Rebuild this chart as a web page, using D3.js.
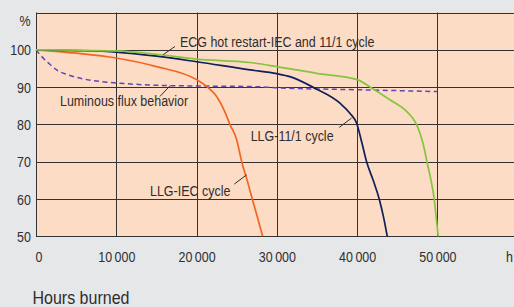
<!DOCTYPE html>
<html><head><meta charset="utf-8">
<script src="https://cdn.jsdelivr.net/npm/d3@7"></script>
<style>
html,body{margin:0;padding:0;background:#e6e7e9;}
svg{display:block;}
text{font-family:"Liberation Sans",Arial,sans-serif;fill:#2e2e2e;}
</style></head>
<body>
<svg id="c" width="514" height="307"></svg>
<script>
// ---- data (hours, percent) ----
const greenHours   = [0,5000,10000,15000,20000,26650,30000,34950,40000,42000,44080,46160,47400,48200,48700,49200,49600,49850,50100];
const greenValues  = [100,99.9,99.7,98.8,97.5,96.6,95.5,93.7,92.0,89.5,86.6,83.5,80,75,70,65,60,55,50];

const navyHours    = [0,5000,10000,15000,20000,26650,30000,31630,34740,37860,39100,39940,40600,41180,42000,42750,43300,43750];
const navyValues   = [100,99.8,99.4,98.3,96.8,94.6,93.6,92.8,89.7,85.7,83.0,80.3,75,70,65,60,55,50];

const orangeHours  = [0,5000,10000,15000,20000,21250,22500,23500,24150,25000,25620,26300,26940,27600,28230];
const orangeValues = [100,99.1,97.8,95.5,92.0,90.2,87.5,83.5,80,75.9,70,65,60,55,50];

const fluxHours    = [0,500,1530,2580,4000,5900,8000,10050,16270,20000,27900,30000,40000,50000];
const fluxValues   = [100,98.7,96.5,94.6,93.3,92.2,91.5,91.1,90.4,90.3,90.1,89.8,89.3,88.8];

const xTicks = [0,10000,20000,30000,40000,50000];
const yTicks = [50,60,70,80,90,100];
const xUnit = "h", yUnit = "%", xTitle = "Hours burned";

// annotations: label, text anchor point (hours, %), leader from, leader to
const annLabels = ["ECG hot restart-IEC and 11/1 cycle","Luminous flux behavior","LLG-11/1 cycle","LLG-IEC cycle"];
const annText   = [[17930,100.75],[2990,84.9],[26740,75.6],[14200,60.9]];
const annFrom   = [[17310,100.9],[15440,87.5],[37770,79.2],[24700,64.0]];
const annTo     = [[15850,98.7],[16690,90.35],[39310,81.7],[26240,66.5]];

// ---- drawing ----
const SX = 0.86; // horizontal condensing to mimic a condensed face
const svg = d3.select("#c");
const x = d3.scaleLinear().domain([0,60000]).range([36,517.7]);
const y = d3.scaleLinear().domain([50,110]).range([236.3,12.5]);

function ctext(parent, px, py, str, size, anchor, sx){
  return parent.append("text")
    .attr("transform",`translate(${px},${py}) scale(${sx||SX},1)`)
    .attr("font-size",size).attr("text-anchor",anchor||"start").text(str);
}

svg.append("rect").attr("x",x(0)).attr("y",y(110)).attr("width",514-x(0)).attr("height",y(50)-y(110)).attr("fill","#fddcc5");

const grid = svg.append("g").attr("stroke","#333").attr("stroke-width",1);
xTicks.slice(1).forEach(t=>grid.append("line").attr("x1",Math.round(x(t))+0.5).attr("x2",Math.round(x(t))+0.5).attr("y1",y(110)).attr("y2",y(50)));
yTicks.slice(1).concat([110]).forEach(t=>grid.append("line").attr("x1",x(0)).attr("x2",514).attr("y1",Math.round(y(t))+0.5).attr("y2",Math.round(y(t))+0.5));

const fmt = v => v===0 ? "0" : d3.format("d")(v).replace(/(\d)(\d{3})$/,"$1\u2009$2");

const xAxis = d3.axisBottom(x).tickValues(xTicks).tickFormat(fmt).tickSize(0).tickPadding(0);
const gx = svg.append("g").attr("transform",`translate(0,${Math.round(y(50))+0.5})`).call(xAxis);
gx.select(".domain").attr("stroke","#333").attr("d",`M${x(0)},0H514`);
gx.selectAll("text").attr("font-size",14.5).attr("dy",null).attr("y",26).attr("fill","#2e2e2e")
  .attr("font-family",'"Liberation Sans",Arial,sans-serif')
  .attr("transform",d=>`translate(${d===0?2.5:0},0) scale(${SX},1)`);

const yAxis = d3.axisLeft(y).tickValues(yTicks).tickFormat(d3.format("d")).tickSize(0).tickPadding(0);
const gy = svg.append("g").attr("transform",`translate(${Math.round(x(0))+0.5},0)`).call(yAxis);
gy.select(".domain").attr("stroke","#333").attr("d",`M0,${y(110)}V${y(50)}`);
gy.selectAll("text").attr("font-size",14.5).attr("dy","0.35em").attr("x",0).attr("fill","#2e2e2e")
  .attr("font-family",'"Liberation Sans",Arial,sans-serif')
  .attr("transform",`translate(-5.5,0) scale(${SX},1)`);

ctext(svg, 30.5, 25.5, yUnit, 14.5, "end");
ctext(svg, 506, 262, xUnit, 14.5, "start");
ctext(svg, 32.5, 304, xTitle, 18, "start", 0.89);

const line = d3.line().x(d=>x(d[0])).y(d=>y(d[1])).curve(d3.curveMonotoneX);
const zip = (a,b)=>a.map((v,i)=>[v,b[i]]);

const plot = svg.append("g").attr("fill","none");
plot.append("path").attr("d",line(zip(fluxHours,fluxValues))).attr("stroke","#5b48b4").attr("stroke-width",1.5).attr("stroke-dasharray","5,3.5");
plot.append("path").attr("d",line(zip(orangeHours,orangeValues))).attr("stroke","#f26522").attr("stroke-width",1.7);
plot.append("path").attr("d",line(zip(navyHours,navyValues))).attr("stroke","#0f1f5a").attr("stroke-width",1.7);
plot.append("path").attr("d",line(zip(greenHours,greenValues))).attr("stroke","#86c440").attr("stroke-width",1.7);

const ann = svg.append("g");
annLabels.forEach((lab,i)=>{
  ann.append("line").attr("x1",x(annFrom[i][0])).attr("y1",y(annFrom[i][1])).attr("x2",x(annTo[i][0])).attr("y2",y(annTo[i][1])).attr("stroke","#2e2e2e").attr("stroke-width",1);
  ctext(ann, x(annText[i][0]), y(annText[i][1]), lab, 14.5, "start");
});
</script>
</body></html>
